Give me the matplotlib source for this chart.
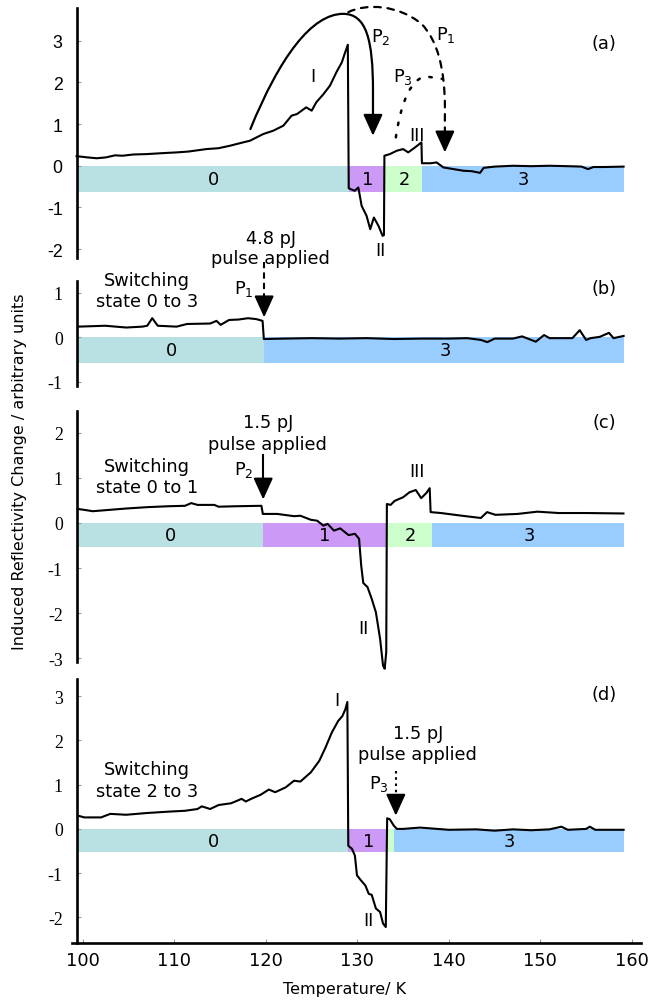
import matplotlib
matplotlib.use("Agg")
import matplotlib.pyplot as plt
from matplotlib.path import Path
from matplotlib.patches import FancyArrowPatch

plt.rcParams['axes.unicode_minus'] = False
plt.rcParams['mathtext.default'] = 'regular'
plt.rcParams['font.family'] = ['DejaVu Sans']

# ---------------- data ----------------
# panel (a)
a_T = [99.3, 100.5, 101.5, 102.5, 103.5, 104.3, 105.5, 107.0, 108.5, 110.2, 111.5, 112.5, 113.5, 114.8,
       116.07, 117.5, 118.25, 119.7, 120.8, 121.9, 122.8, 123.4, 124.4, 125.0, 125.5, 126.3, 127.0, 127.7,
       128.3, 128.6, 128.95, 129.05, 129.7, 130.1, 130.46, 131.0, 131.4, 131.8, 132.3, 132.75, 132.9,
       132.95, 133.55, 134.3, 135.0, 135.55, 136.3, 137.0, 137.05, 138.0, 138.65, 139.4, 140.5, 141.6,
       142.5, 143.4, 143.8, 145.0, 147.0, 149.0, 151.0, 153.0, 154.5, 155.2, 155.8, 157.0, 159.1]
a_V = [0.23, 0.2, 0.18, 0.2, 0.25, 0.24, 0.27, 0.28, 0.3, 0.32, 0.34, 0.37, 0.4, 0.42,
       0.48, 0.56, 0.6, 0.76, 0.84, 0.96, 1.2, 1.24, 1.4, 1.32, 1.52, 1.72, 1.92, 2.24,
       2.48, 2.68, 2.9, -0.54, -0.6, -0.52, -0.96, -1.2, -1.52, -1.24, -1.44, -1.68, -1.66,
       0.24, 0.28, 0.36, 0.4, 0.32, 0.44, 0.56, 0.06, 0.06, 0.08, -0.04, -0.08, -0.12,
       -0.13, -0.17, -0.05, -0.02, 0.0, -0.01, 0.0, -0.01, -0.02, -0.08, -0.03, -0.03, -0.02]
a_edges = [99.3, 129.05, 133.0, 137.05, 159.1]
a_states = ['0', '1', '2', '3']

# panel (b)
b_T = [99.45, 101.0, 102.43, 104.72, 106.5, 107.02, 107.57, 108.17, 110.23, 111.38, 113.9, 114.59,
       115.05, 115.96, 117.0, 118.03, 118.94, 119.63, 119.77, 122.0, 125.0, 128.0, 131.0, 134.0, 137.0,
       140.0, 142.0, 143.5, 144.2, 145.0, 147.0, 148.0, 149.5, 150.4, 151.0, 153.5, 154.3, 155.0,
       155.5, 156.5, 157.5, 158.0, 159.1]
b_V = [0.24, 0.25, 0.26, 0.22, 0.24, 0.26, 0.43, 0.26, 0.24, 0.3, 0.31, 0.37,
       0.28, 0.39, 0.4, 0.43, 0.41, 0.37, -0.04, -0.03, -0.02, -0.03, -0.02, -0.04, -0.03,
       -0.03, -0.02, -0.06, -0.11, -0.03, -0.03, 0.02, -0.1, 0.05, -0.02, -0.02, 0.16, -0.06,
       -0.02, 0.01, 0.1, -0.02, 0.03]
b_edges = [99.3, 119.8, 159.1]
b_states = ['0', '3']

# panel (c)
c_T = [99.45, 100.14, 101.06, 102.89, 104.72, 107.02, 109.31, 111.15, 111.83, 112.52, 114.36, 114.82,
       116.65, 119.5, 119.66, 121.24, 123.07, 123.76, 124.91, 125.6, 126.28, 126.74, 127.43, 128.12,
       129.04, 129.72, 130.18, 130.41, 130.64, 131.1, 131.56, 132.02, 132.48, 132.8, 132.98, 133.15,
       133.22, 133.62, 134.08, 135.0, 135.69, 136.38, 136.97, 137.52, 137.9, 138.0, 139.13, 141.42,
       143.49, 144.17, 145.09, 147.5, 149.68, 152.0, 155.0, 159.08]
c_V = [0.31, 0.29, 0.26, 0.29, 0.32, 0.35, 0.37, 0.38, 0.44, 0.4, 0.4, 0.36,
       0.37, 0.38, 0.2, 0.2, 0.15, 0.16, 0.07, 0.05, -0.06, -0.02, -0.17, -0.12,
       -0.27, -0.24, -0.35, -0.94, -1.33, -1.42, -1.68, -1.98, -2.57, -3.16, -3.23, -2.86,
       0.42, 0.4, 0.49, 0.57, 0.68, 0.73, 0.55, 0.66, 0.77, 0.24, 0.22, 0.16,
       0.11, 0.24, 0.18, 0.2, 0.25, 0.22, 0.22, 0.21]
c_edges = [99.3, 119.63, 133.1, 138.2, 159.1]
c_states = ['0', '1', '2', '3']

# panel (d)
d_T = [99.45, 100.14, 101.97, 102.98, 104.72, 107.02, 109.31, 111.15, 112.52, 112.98, 113.9, 114.82,
       116.19, 117.34, 117.8, 118.49, 119.4, 120.32, 121.01, 122.16, 123.07, 123.76, 124.91, 125.83,
       126.51, 127.2, 127.89, 128.35, 128.67, 128.9, 129.0, 129.4, 129.72, 129.95, 130.41, 130.87,
       131.24, 131.56, 132.02, 132.48, 132.8, 133.1, 133.25, 133.53, 133.99, 134.31, 135.0, 136.83,
       140.0, 143.0, 145.0, 147.0, 149.0, 151.0, 152.3, 153.0, 155.0, 155.4, 156.0, 159.1]
d_V = [0.3, 0.26, 0.26, 0.34, 0.32, 0.36, 0.39, 0.41, 0.45, 0.51, 0.45, 0.54,
       0.58, 0.68, 0.62, 0.69, 0.77, 0.89, 0.83, 0.94, 1.09, 1.07, 1.28, 1.54,
       1.84, 2.18, 2.44, 2.55, 2.7, 2.87, -0.38, -0.45, -0.6, -1.05, -1.17, -1.28,
       -1.47, -1.49, -1.8, -1.88, -2.14, -2.22, 0.24, 0.22, 0.07, 0.0, 0.0, 0.03,
       -0.02, -0.01, -0.04, -0.01, -0.03, -0.01, 0.05, -0.02, 0.0, 0.05, -0.02, -0.02]
d_edges = [99.3, 129.0, 133.2, 134.0, 159.1]
d_states = ['0', '1', '2', '3']

state_colors = {'0': '#b9e0e3', '1': '#cc99f7', '2': '#ccffcc', '3': '#99ccff'}

# ---------------- layout ----------------
W, H = 658, 1003
fig = plt.figure(figsize=(W / 100, H / 100), dpi=100)
XL, XR = 76.6, 641.0
XMIN, XMAX = 99.3, 161.0


def make_ax(top, bottom, ylim):
    ax = fig.add_axes([XL / W, 1 - bottom / H, (XR - XL) / W, (bottom - top) / H])
    ax.set_xlim(XMIN, XMAX)
    ax.set_ylim(*ylim)
    for s in ['top', 'right']:
        ax.spines[s].set_visible(False)
    ax.spines['left'].set_linewidth(1.9)
    ax.patch.set_alpha(0)
    return ax


ax_a = make_ax(9, 259, (-2.21, 3.78))
ax_b = make_ax(282, 387, (-1.1, 1.27))
ax_c = make_ax(412, 663, (-3.08, 2.48))
ax_d = make_ax(680, 944, (-2.58, 3.39))

panels = [
    (ax_a, a_T, a_V, a_edges, a_states, 0.62, [-2, -1, 0, 1, 2, 3], 'Liberation Sans', '(a)', 2.93),
    (ax_b, b_T, b_V, b_edges, b_states, 0.58, [-1, 0, 1], 'Liberation Serif', '(b)', 1.12),
    (ax_c, c_T, c_V, c_edges, c_states, 0.54, [-3, -2, -1, 0, 1, 2], 'Liberation Serif', '(c)', 2.24),
    (ax_d, d_T, d_V, d_edges, d_states, 0.53, [-2, -1, 0, 1, 2, 3], 'Liberation Serif', '(d)', 3.04),
]

FS = 12.8
for ax, T, V, edges, states, bh, yt, yfont, lab, laby in panels:
    for i, st in enumerate(states):
        ax.broken_barh([(edges[i], edges[i + 1] - edges[i])], (-bh, bh),
                       facecolor=state_colors[st], edgecolor='none', zorder=1)
        if edges[i + 1] - edges[i] > 1.5:
            ax.text((edges[i] + edges[i + 1]) / 2 + 0.1, -bh / 2, st, ha='center', va='center',
                    fontsize=FS, zorder=2)
    ax.plot(T, V, color='black', lw=1.5, zorder=3, clip_on=False)
    ax.set_yticks(yt)
    ax.set_yticklabels([str(v) for v in yt], fontfamily=yfont, fontsize=12.8)
    ax.tick_params(axis='y', direction='in', length=3, width=0.8, color='#999999', pad=10)
    ax.text(157.0, laby, lab, ha='center', va='center', fontsize=FS)

for ax in [ax_a, ax_b, ax_c]:
    ax.spines['bottom'].set_visible(False)
    ax.set_xticks([])

ax_d.spines['bottom'].set_linewidth(1.9)
ax_d.spines['bottom'].set_bounds(98.8, 161.0)
ax_d.set_xticks([100, 110, 120, 130, 140, 150, 160])
ax_d.set_xticklabels(['100', '110', '120', '130', '140', '150', '160'], fontsize=12.8)
ax_d.tick_params(axis='x', direction='in', length=3, width=0.8, color='#999999', pad=6)

HEAD = '-|>,head_width=0.3,head_length=0.66'


def head(ax, x, y_tip, y_base):
    ax.annotate('', xy=(x, y_tip), xytext=(x, y_base), annotation_clip=False,
                arrowprops=dict(arrowstyle=HEAD, mutation_scale=20, lw=1.5, color='black',
                                shrinkA=0, shrinkB=0))


# ---- panel (a) annotations ----
ax_a.text(125.1, 2.16, 'I', ha='center', va='center', fontsize=FS)
ax_a.text(132.5, -2.03, 'II', ha='center', va='center', fontsize=FS)
ax_a.text(136.5, 0.74, 'III', ha='center', va='center', fontsize=FS)
ax_a.text(132.6, 3.12, 'P$_2$', ha='center', va='center', fontsize=FS)
ax_a.text(139.7, 3.16, 'P$_1$', ha='center', va='center', fontsize=FS)
ax_a.text(135.0, 2.16, 'P$_3$', ha='center', va='center', fontsize=FS)

p2 = Path([(118.3, 0.88), (121.5, 2.6), (125.0, 3.64), (128.45, 3.64),
           (131.0, 3.64), (131.7, 3.0), (131.7, 1.8), (131.7, 1.2)],
          [Path.MOVETO, Path.CURVE4, Path.CURVE4, Path.CURVE4,
           Path.CURVE4, Path.CURVE4, Path.CURVE4, Path.LINETO])
ax_a.add_patch(FancyArrowPatch(path=p2, arrowstyle='-', lw=1.6, color='black',
                               clip_on=False, zorder=4))
head(ax_a, 131.7, 0.72, 1.22)

p1 = Path([(129.0, 3.68), (131.0, 3.9), (134.5, 3.85), (137.0, 3.4),
           (138.8, 3.0), (139.5, 2.3), (139.56, 1.5), (139.56, 0.8)],
          [Path.MOVETO, Path.CURVE4, Path.CURVE4, Path.CURVE4,
           Path.CURVE4, Path.CURVE4, Path.CURVE4, Path.LINETO])
ax_a.add_patch(FancyArrowPatch(path=p1, arrowstyle='-', lw=1.6, color='black',
                               linestyle=(0, (3, 3)), clip_on=False, zorder=4))
head(ax_a, 139.56, 0.32, 0.8)

p3 = Path([(134.2, 0.68), (134.8, 1.6), (136.0, 2.1), (137.5, 2.14), (139.3, 2.08)],
          [Path.MOVETO, Path.CURVE4, Path.CURVE4, Path.CURVE4, Path.LINETO])
ax_a.add_patch(FancyArrowPatch(path=p3, arrowstyle='-', lw=1.8, color='black',
                               linestyle=(0, (1, 4)), clip_on=False, zorder=4))

# ---- panel (b) annotations ----
ax_b.text(107.0, 1.3, 'Switching', ha='center', va='center', fontsize=FS)
ax_b.text(107.0, 0.81, 'state 0 to 3', ha='center', va='center', fontsize=FS)
ax_b.text(120.5, 2.25, '4.8 pJ', ha='center', va='center', fontsize=FS, clip_on=False)
ax_b.text(120.5, 1.78, 'pulse applied', ha='center', va='center', fontsize=FS, clip_on=False)
ax_b.text(117.6, 1.12, 'P$_1$', ha='center', va='center', fontsize=FS)
ax_b.plot([119.8, 119.8], [1.7, 0.9], color='black', lw=1.5, linestyle=(0, (3, 2)), clip_on=False)
head(ax_b, 119.8, 0.45, 0.9)

# ---- panel (c) annotations ----
ax_c.text(107.0, 1.27, 'Switching', ha='center', va='center', fontsize=FS)
ax_c.text(107.0, 0.8, 'state 0 to 1', ha='center', va='center', fontsize=FS)
ax_c.text(120.2, 2.23, '1.5 pJ', ha='center', va='center', fontsize=FS)
ax_c.text(120.2, 1.75, 'pulse applied', ha='center', va='center', fontsize=FS)
ax_c.text(117.6, 1.19, 'P$_2$', ha='center', va='center', fontsize=FS)
ax_c.plot([119.7, 119.7], [1.5, 0.9], color='black', lw=1.5)
head(ax_c, 119.7, 0.52, 0.95)
ax_c.text(136.5, 1.14, 'III', ha='center', va='center', fontsize=FS)
ax_c.text(130.6, -2.33, 'II', ha='center', va='center', fontsize=FS)

# ---- panel (d) annotations ----
ax_d.text(107.0, 1.35, 'Switching', ha='center', va='center', fontsize=FS)
ax_d.text(107.0, 0.86, 'state 2 to 3', ha='center', va='center', fontsize=FS)
ax_d.text(127.7, 2.92, 'I', ha='center', va='center', fontsize=FS)
ax_d.text(131.2, -2.07, 'II', ha='center', va='center', fontsize=FS)
ax_d.text(136.6, 2.18, '1.5 pJ', ha='center', va='center', fontsize=FS)
ax_d.text(136.6, 1.69, 'pulse applied', ha='center', va='center', fontsize=FS)
ax_d.text(132.4, 1.04, 'P$_3$', ha='center', va='center', fontsize=FS)
ax_d.plot([134.2, 134.2], [1.3, 0.75], color='black', lw=1.5, linestyle=(0, (1.2, 1.8)))
head(ax_d, 134.2, 0.3, 0.74)

fig.text(20 / W, 1 - 472 / H, 'Induced Reflectivity Change / arbitrary units', rotation=90,
         ha='center', va='center', fontsize=11.5)
fig.text(345 / W, 1 - 990 / H, 'Temperature/ K', ha='center', va='center', fontsize=11.5)

fig.savefig('out.png', dpi=100)
